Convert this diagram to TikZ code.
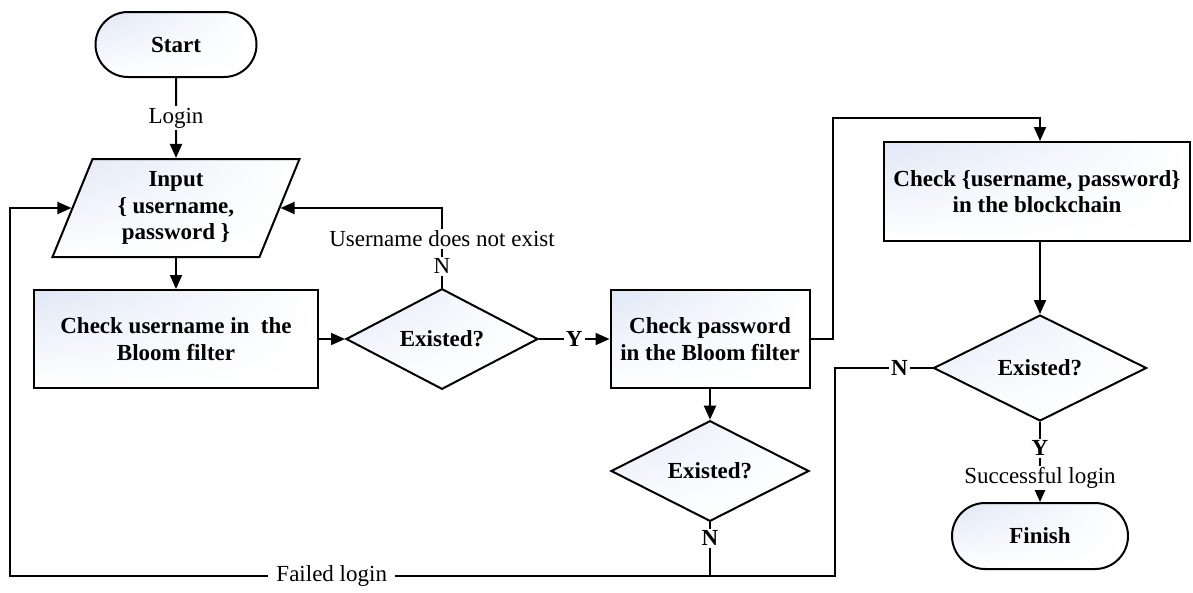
\documentclass[tikz,border=0pt]{standalone}
\usepackage{fontspec}
\setmainfont{Liberation Serif}
\usetikzlibrary{arrows.meta, shapes.geometric, shapes.misc, shadings}
\definecolor{boxtint}{RGB}{224,231,246}
\tikzset{
  box/.style={draw, line width=2pt, shade, upper left=boxtint, upper right=white,
    lower left=white, lower right=white, align=center, inner sep=2pt,
    font=\fontsize{23}{26.5}\selectfont\bfseries},
  procbox/.style={box, rectangle, minimum height=98pt},
  decision/.style={box, diamond, inner sep=0pt},
  terminal/.style={box, rounded rectangle, minimum width=165pt, minimum height=65pt},
  inbox/.style={box, trapezium, trapezium left angle=62.5, trapezium right angle=117.5,
    trapezium stretches body, minimum width=247pt, minimum height=98pt},
  lbl/.style={fill=white, inner sep=2pt}
}
\begin{document}
\begin{tikzpicture}[x=1pt, y=-1pt, line width=2pt, >={Triangle[length=14pt,width=12pt]},
  font=\fontsize{23}{26.5}\selectfont]
  \useasboundingbox (0,0) rectangle (1193,592);
  % shapes
  \node[terminal] (start) at (176,44.5) {Start};
  \node[inbox] (input) at (176,208) {Input\\\{ username,\\password \}};
  \node[procbox, minimum width=284pt] (userbf) at (176,339) {Check username in~ the\\Bloom filter};
  \node[decision, minimum width=192pt, minimum height=98pt] (userok) at (442,339) {Existed?};
  \node[procbox, minimum width=199pt] (passbf) at (710,339) {Check password\\in the Bloom filter};
  \node[decision, minimum width=198pt, minimum height=98pt] (passok) at (710,471) {Existed?};
  \node[procbox, minimum width=306pt, minimum height=99pt] (chain) at (1037,191.5) {Check \{username, password\}\\in the blockchain};
  \node[decision, minimum width=213pt, minimum height=106pt] (chainok) at (1040,368) {Existed?};
  \node[terminal, minimum width=180pt, minimum height=66pt] (finish) at (1040,536) {Finish};
  \coordinate (hop) at (833,118);
  \coordinate (failr) at (835,576);
  \coordinate (faill) at (10,576);
  % connectors
  \draw[->] (start) -- node[lbl]{Login} (input);
  \draw[->] (input) -- (userbf);
  \draw[->] (userbf) -- (userok);
  \draw[->] (userok) -- node[lbl]{\textbf{Y}} (passbf);
  \draw[->] (userok.north) -- node[lbl, pos=0.27]{N} node[lbl, pos=0.61]{Username does not exist}
    (userok.north |- input.right side) -- (input.right side);
  \draw[->] (passbf.east) -| (hop) -| (chainok.north |- chain.north);
  \draw[->] (chainok.north |- chain.south) -- (chainok);
  \draw[->] (passbf) -- (passok);
  \draw[->] (chainok) -- node[lbl, pos=0.33]{\textbf{Y}} node[lbl, inner sep=1pt, pos=0.7]{Successful login} (finish);
  \draw[->] (chainok.west) -- node[lbl, pos=0.34]{\textbf{N}} (chainok.west -| failr) -- (failr)
    -- node[lbl, inner xsep=8pt, pos=0.61]{Failed login} (faill) |- (input.left side);
  \draw (passok.south) -- node[lbl, pos=0.3]{\textbf{N}} (passok.south |- failr);
\end{tikzpicture}
\end{document}
